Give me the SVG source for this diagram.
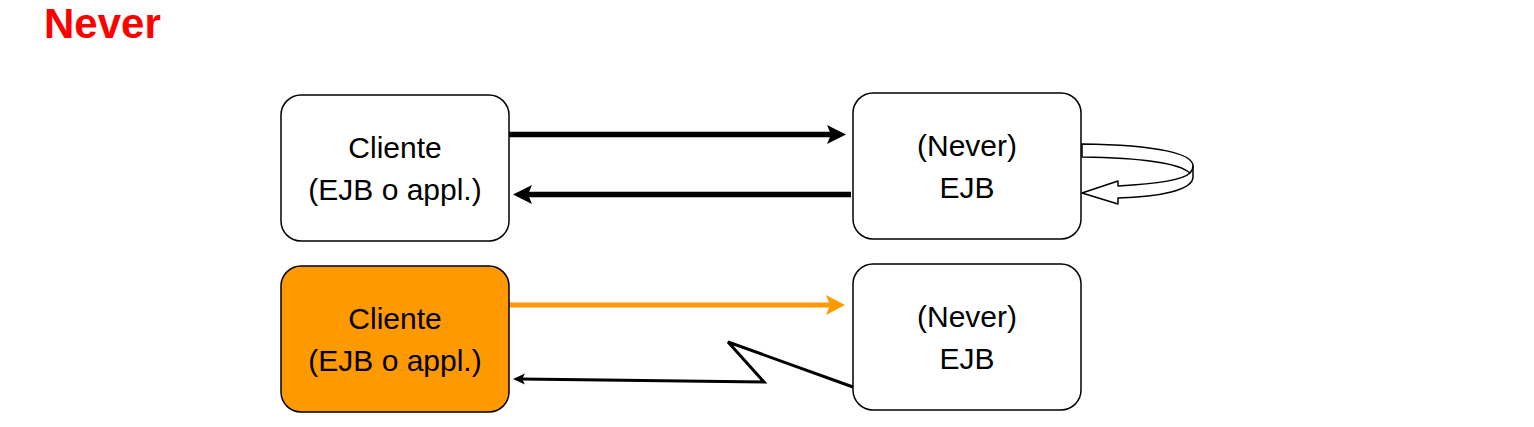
<svg xmlns="http://www.w3.org/2000/svg" width="1534" height="427" viewBox="0 0 1534 427">
  <style>
    .box { fill: #ffffff; stroke: #000000; stroke-width: 1.5; }
    .box.orange { fill: #FF9900; }
    .lbl { font-family: "Liberation Sans", Arial, sans-serif; font-size: 30px; fill: #000000; text-anchor: middle; }
    .title { font-family: "Liberation Sans", Arial, sans-serif; font-size: 42px; font-weight: bold; fill: #FF0000; }
    .thick { stroke: #000000; stroke-width: 5.5; fill: none; }
    .thickO { stroke: #FF9900; stroke-width: 5; fill: none; }
    .thin { stroke: #000000; stroke-width: 3; fill: none; stroke-linejoin: miter; }
  </style>
  <defs>
    <marker id="headK" markerUnits="userSpaceOnUse" markerWidth="40" markerHeight="40" refX="0" refY="0" orient="auto" overflow="visible">
      <path d="M12,0 L-7,-9.5 L-3,0 L-7,9.5 Z" fill="#000000"/>
    </marker>
    <marker id="headO" markerUnits="userSpaceOnUse" markerWidth="40" markerHeight="40" refX="0" refY="0" orient="auto" overflow="visible">
      <path d="M12,0 L-7,-10 L-3,0 L-7,10 Z" fill="#FF9900"/>
    </marker>
    <marker id="headS" markerUnits="userSpaceOnUse" markerWidth="20" markerHeight="20" refX="0" refY="0" orient="auto" overflow="visible">
      <path d="M8,0 L-4,-5.5 L-1,0 L-4,5.5 Z" fill="#000000"/>
    </marker>
  </defs>

  <text class="title" x="44" y="38">Never</text>

  <g id="connectors">
    <line class="thick" x1="509" y1="134.5" x2="834" y2="134.5" marker-end="url(#headK)"/>
    <line class="thick" x1="851" y1="194.5" x2="525" y2="194.5" marker-end="url(#headK)"/>
    <line class="thickO" x1="509" y1="305" x2="833" y2="305" marker-end="url(#headO)"/>
    <polyline class="thin" points="853,387 728,342 764,382 521,379" marker-end="url(#headS)"/>
    <g id="selfloop" fill="#ffffff" stroke="#000000" stroke-width="1.5" stroke-linejoin="round">
      <path d="M1082,144 C1160,145 1193,154 1193,166 L1193,177 C1193,190 1160,197 1118,198 L1118,204 L1082,193 L1118,181 L1118,186 C1155,184 1183,180 1190,173 C1180,164 1150,158 1082,157 Z"/>
      <path d="M1190,173 C1192,171 1193,169 1193,166" fill="none"/>
    </g>
  </g>

  <g id="client1">
    <rect class="box" x="281" y="95" width="228" height="146" rx="20" ry="20"/>
    <text class="lbl" x="395" y="158">Cliente</text>
    <text class="lbl" x="395" y="200">(EJB o appl.)</text>
  </g>
  <g id="ejb1">
    <rect class="box" x="853" y="93" width="228" height="146" rx="20" ry="20"/>
    <text class="lbl" x="967" y="156">(Never)</text>
    <text class="lbl" x="967" y="198">EJB</text>
  </g>
  <g id="client2">
    <rect class="box orange" x="281" y="266" width="228" height="146" rx="20" ry="20"/>
    <text class="lbl" x="395" y="329">Cliente</text>
    <text class="lbl" x="395" y="371">(EJB o appl.)</text>
  </g>
  <g id="ejb2">
    <rect class="box" x="853" y="264" width="228" height="146" rx="20" ry="20"/>
    <text class="lbl" x="967" y="327">(Never)</text>
    <text class="lbl" x="967" y="369">EJB</text>
  </g>
</svg>
